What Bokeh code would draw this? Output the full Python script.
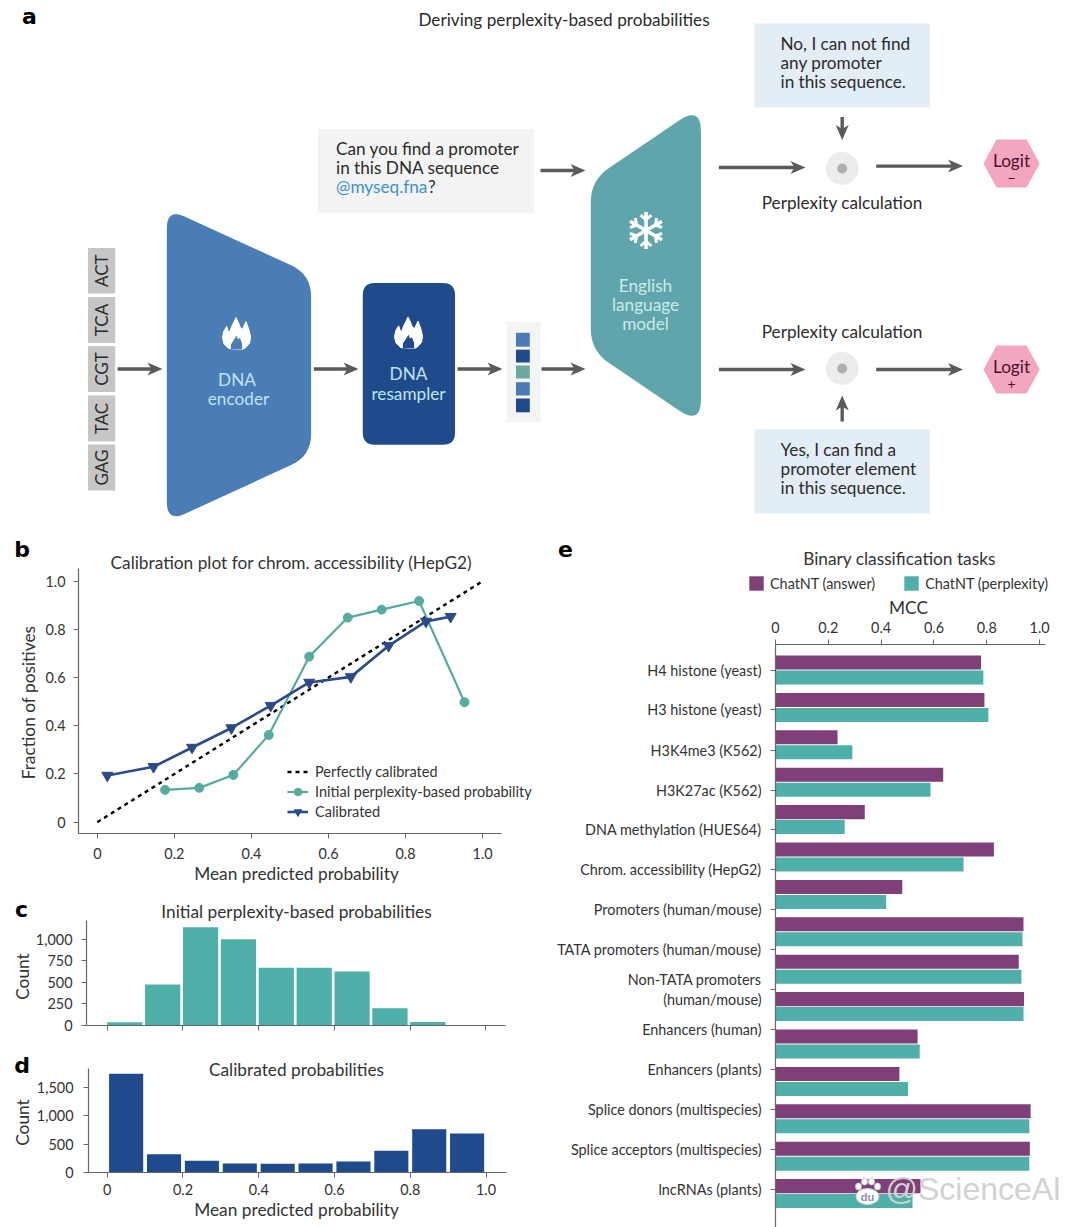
import math
from bokeh.plotting import figure
from bokeh.layouts import column, row
from bokeh.models import Range1d, FixedTicker, Legend, LegendItem, Spacer
from bokeh.core.properties import value
from bokeh.embed import file_html
from bokeh.resources import INLINE

FONT = "Lato"
INK = "#333333"
NAN = float("nan")

# ---- data ----
line_x_perfect = [0, 1.0]
line_y_perfect = [0, 1.0]
initial_x = [0.176, 0.2645, 0.353, 0.445, 0.55, 0.65, 0.738, 0.835, 0.953]
initial_y = [0.134, 0.1425, 0.196, 0.362, 0.687, 0.849, 0.882, 0.918, 0.498]
calib_x = [0.026, 0.146, 0.246, 0.348, 0.45, 0.55, 0.658, 0.756, 0.853, 0.917]
calib_y = [0.194, 0.23, 0.31, 0.391, 0.484, 0.58, 0.603, 0.732, 0.833, 0.853]
bin_left = [0.0, 0.1, 0.2, 0.3, 0.4, 0.5, 0.6, 0.7, 0.8, 0.9]
initial_counts = [39, 475, 1139, 1000, 668, 668, 625, 200, 42, 0]
calib_counts = [1734, 322, 205, 158, 152, 158, 193, 381, 762, 686]
answer_mcc = [.778, .791, .235, .635, .338, .827, .480, .939, .921, .941, .538, .469, .966, .963, .549]
perplexity_mcc = [.787, .806, .291, .587, .262, .712, .419, .935, .931, .939, .546, .502, .961, .961, .519]
task_labels = ["H4 histone (yeast)", "H3 histone (yeast)", "H3K4me3 (K562)", "H3K27ac (K562)",
               "DNA methylation (HUES64)", "Chrom. accessibility (HepG2)", "Promoters (human/mouse)",
               "TATA promoters (human/mouse)", "Non-TATA promoters\n(human/mouse)", "Enhancers (human)",
               "Enhancers (plants)", "Splice donors (multispecies)", "Splice acceptors (multispecies)",
               "lncRNAs (plants)"]
task_tick_pos = [0.0, 1.06, 2.14, 3.21, 4.27, 5.34, 6.41, 7.48, 8.55, 9.62, 10.68, 11.76, 12.82, 13.89]
prob_ticks = [0, 0.2, 0.4, 0.6, 0.8, 1.0]
prob_labels = {0: "0", 0.2: "0.2", 0.4: "0.4", 0.6: "0.6", 0.8: "0.8", 1.0: "1.0"}
blank_labels = {0: "", 0.2: "", 0.4: "", 0.6: "", 0.8: "", 1.0: ""}


# ---- helpers ----
def make_fig(px0, py0, px1, py1, fx0, fy0, fx1, fy1, xr, yr, **kw):
    f = figure(width=px1 - px0, height=py1 - py0, x_range=Range1d(*xr), y_range=Range1d(*yr),
               toolbar_location=None, output_backend="svg", frame_align=False,
               min_border_left=fx0 - px0, min_border_right=px1 - fx1,
               min_border_top=fy0 - py0, min_border_bottom=py1 - fy1, **kw)
    f.outline_line_color = None
    f.grid.visible = False
    f.background_fill_color = None
    f.border_fill_color = None
    return f


def style_axis(ax, ticks, labels, size="14.4px"):
    ax.ticker = FixedTicker(ticks=ticks)
    ax.major_label_overrides = labels
    ax.minor_tick_line_color = None
    ax.major_tick_in = 0
    ax.major_tick_out = 5
    ax.axis_line_color = "#666666"
    ax.major_tick_line_color = "#666666"
    ax.axis_line_width = 1.2
    ax.major_label_text_font = FONT
    ax.major_label_text_font_size = size
    ax.major_label_text_color = INK


def rounded(verts, radii, n=8):
    out = []
    m = len(verts)
    for i in range(m):
        p = verts[i]
        a_ = verts[i - 1]
        b_ = verts[(i + 1) % m]
        r = radii[i]
        da = math.hypot(a_[0] - p[0], a_[1] - p[1])
        db = math.hypot(b_[0] - p[0], b_[1] - p[1])
        s = (p[0] + (a_[0] - p[0]) * r / da, p[1] + (a_[1] - p[1]) * r / da)
        e_ = (p[0] + (b_[0] - p[0]) * r / db, p[1] + (b_[1] - p[1]) * r / db)
        for k in range(n + 1):
            t = k / n
            out.append(((1 - t) ** 2 * s[0] + 2 * t * (1 - t) * p[0] + t ** 2 * e_[0],
                        (1 - t) ** 2 * s[1] + 2 * t * (1 - t) * p[1] + t ** 2 * e_[1]))
    return [q[0] for q in out], [q[1] for q in out]


# ---- page layer: panel a, titles, panel letters, axis titles, legends (page pixel coordinates) ----
a = figure(width=1080, height=1227, x_range=Range1d(0, 1080), y_range=Range1d(1227, 0),
           x_axis_type=None, y_axis_type=None, toolbar_location=None, output_backend="svg",
           min_border=0, styles={"position": "absolute", "top": "0px", "left": "0px", "z-index": "10"})
a.outline_line_color = None
a.grid.visible = False
a.background_fill_color = None
a.border_fill_color = None


def atext(x, y, t, size="17.2px", align="center", color="#2b2b2b", angle=0, font=FONT, style="normal"):
    a.text([x], [y - 1], text=[t], text_font=value(font), text_font_size=value(size), text_align=align,
           text_baseline="middle", text_color=color, angle=angle, text_font_style=style)


def abox(x0, y0, x1, y1, color):
    a.quad(left=[x0], right=[x1], top=[y0], bottom=[y1], fill_color=color, line_color=None)


def arrow(x0, y0, x1, y1):
    L = math.hypot(x1 - x0, y1 - y0)
    ux, uy = (x1 - x0) / L, (y1 - y0) / L
    nx, ny = -uy, ux
    a.line([x0, x1 - 6 * ux], [y0, y1 - 6 * uy], line_color="#5a5a5a", line_width=3.4)
    hx = [x1, x1 - 15 * ux + 6.5 * nx, x1 - 11 * ux, x1 - 15 * ux - 6.5 * nx]
    hy = [y1, y1 - 15 * uy + 6.5 * ny, y1 - 11 * uy, y1 - 15 * uy - 6.5 * ny]
    a.patch(hx, hy, fill_color="#5a5a5a", line_color=None)


FLAME_OUT = [(0.5, 1.0), (0.22, 0.97), (0.05, 0.82), (0, 0.62), (0.05, 0.42), (0.15, 0.28), (0.2, 0.42), (0.25, 0.46),
             (0.33, 0.28), (0.42, 0.12), (0.48, 0), (0.55, 0.12), (0.62, 0.28), (0.71, 0.38), (0.77, 0.26), (0.84, 0.13),
             (0.95, 0.4), (1, 0.6), (0.97, 0.8), (0.82, 0.95), (0.7, 1.0)]
FLAME_IN = [(0.3, 1.0), (0.3, 0.84), (0.42, 0.68), (0.5, 0.56), (0.55, 0.68), (0.62, 0.64), (0.7, 0.82), (0.7, 1.0)]


def flame(x0, y0, x1, y1, bg):
    w, h = x1 - x0, y1 - y0
    a.patch([x0 + p[0] * w for p in FLAME_OUT], [y0 + p[1] * h for p in FLAME_OUT], fill_color="white", line_color="white", line_width=1)
    a.patch([x0 + p[0] * w for p in FLAME_IN], [y0 + p[1] * h for p in FLAME_IN], fill_color=bg, line_color=None)


atext(563.5, 20, "Deriving perplexity-based probabilities")
for lx_, ly_, t_ in [(29, 17, "a"), (21.5, 550, "b"), (21, 910, "c"), (21.5, 1066, "d"), (565, 549, "e")]:
    atext(lx_, ly_, t_, size="22px", color="black", font="DejaVu Sans", style="bold")

# DNA tokens
for t, y0, y1 in [("ACT", 247.5, 293), ("TCA", 296.5, 342.5), ("CGT", 345.5, 391.5), ("TAC", 395, 441), ("GAG", 444, 490)]:
    abox(87.5, y0, 114.7, y1, "#c6c6c6")
    atext(100.5, (y0 + y1) / 2 + 1, t, size="17px", angle=math.pi / 2)

for seg in [(117, 368.5, 162, 368.5), (313.4, 368.5, 358, 368.5), (457, 368.5, 502, 368.5), (540, 170, 585, 170),
            (541, 368.5, 585, 368.5), (718.4, 167, 805, 167), (875.7, 165.6, 962.5, 165.6), (718.4, 369, 805, 369),
            (875.7, 369, 962.5, 369), (841.7, 116.6, 841.7, 139.6), (841.7, 421, 841.7, 395)]:
    arrow(*seg)

# encoder
ex, ey = rounded([(166.3, 207.8), (310.6, 274), (310.6, 455.4), (166.3, 521.6)], [20, 22, 22, 20])
a.patch(ex, ey, fill_color="#4a7cb5", line_color=None)
flame(222, 317, 250, 349, "#4a7cb5")
atext(236.5, 380, "DNA", color="#bfe3f7")
atext(238, 399, "encoder", color="#bfe3f7")

# resampler
rx, ry = rounded([(362.3, 282.6), (454.5, 282.6), (454.5, 444.2), (362.3, 444.2)], [12, 12, 12, 12])
a.patch(rx, ry, fill_color="#1f4a8c", line_color=None)
flame(394, 316.5, 422, 348, "#1f4a8c")
atext(408, 374, "DNA", color="#bfe3f7")
atext(408, 394, "resampler", color="#bfe3f7")

# embedded tokens
abox(506, 321, 540, 422, "#f3f4f6")
for y0, y1, c_ in [(332.3, 346.2, "#4a7cb5"), (349.2, 362, "#1f4a8c"), (365, 378, "#67ab9f"), (381.7, 395, "#4a7cb5"), (398, 411.8, "#1f4a8c")]:
    abox(515.5, y0, 529.3, y1, c_)

# language model
lx, ly = rounded([(590.3, 179.7), (700.5, 105.3), (700.5, 424.7), (590.3, 350.3)], [22, 26, 26, 22])
a.patch(lx, ly, fill_color="#60a5ab", line_color=None)
for k in range(6):
    th = k * math.pi / 3 + math.pi / 2
    cx, cy = 645.5, 230
    tipx, tipy = cx + 18.5 * math.cos(th), cy + 18.5 * math.sin(th)
    a.line([cx, tipx], [cy, tipy], line_color="white", line_width=3.6)
    mx, my = cx + 11 * math.cos(th), cy + 11 * math.sin(th)
    for d_ in (-1, 1):
        a.line([mx, mx + 7 * math.cos(th + d_ * 0.9)], [my, my + 7 * math.sin(th + d_ * 0.9)], line_color="white", line_width=3)
atext(645, 286, "English", color="#c9ecea")
atext(645, 305, "language", color="#c9ecea")
atext(645, 324, "model", color="#c9ecea")

# prompt boxes
abox(317.5, 128.5, 533.4, 212.3, "#f3f3f3")
atext(335.5, 149, "Can you find a promoter", align="left")
atext(335.5, 168, "in this DNA sequence", align="left")
atext(335.5, 187, "@myseq.fna", align="left", color="#3f8fd2")
atext(427.5, 187, "?", align="left")

abox(754, 23, 929.5, 107, "#e3edf5")
for y, t in [(44, "No, I can not find"), (63, "any promoter"), (82, "in this sequence.")]:
    atext(780, y, t, align="left")
abox(754, 428.7, 929.5, 513, "#e3edf5")
for y, t in [(450, "Yes, I can find a"), (469, "promoter element"), (488, "in this sequence.")]:
    atext(780, y, t, align="left")

# perplexity nodes
for cy in (168, 368):
    a.circle([841.7], [cy], radius=16.5, fill_color="#ececec", line_color=None)
    a.circle([841.7], [cy], radius=5, fill_color="#b0b0b0", line_color=None)
atext(841.7, 202.5, "Perplexity calculation")
atext(841.7, 332, "Perplexity calculation")

# logits
for y0, sign in [(139, "\u2212"), (345, "+")]:
    a.patch([983, 996, 1026, 1039.3, 1026, 996], [y0 + 24, y0, y0, y0 + 24, y0 + 48, y0 + 48],
            fill_color="#f4a6c0", line_color=None)
    atext(1011, y0 + 22, "Logit", color="#4a1030")
    atext(1011, y0 + 39, sign, size="14px", color="#4a1030")

# chart titles and axis titles
for x_, y_, t_, ang in [(291, 563, "Calibration plot for chrom. accessibility (HepG2)", 0),
                        (296, 874, "Mean predicted probability", 0),
                        (28, 703, "Fraction of positives", math.pi / 2),
                        (296, 911.5, "Initial perplexity-based probabilities", 0),
                        (22, 977, "Count", math.pi / 2),
                        (296, 1070, "Calibrated probabilities", 0),
                        (296, 1210, "Mean predicted probability", 0),
                        (22, 1123, "Count", math.pi / 2),
                        (899, 558.5, "Binary classification tasks", 0),
                        (908, 607.5, "MCC", 0)]:
    atext(x_, y_, t_, size="17.3px", color=INK, angle=ang)

# legends
k_p = a.line([NAN, NAN], [NAN, NAN], line_color="black", line_width=2.4, line_dash="4 4")
k_i = a.line([NAN, NAN], [NAN, NAN], line_color="#56ab9f", line_width=2.2)
k_is = a.scatter([NAN], [NAN], marker="circle", size=9, fill_color="#56ab9f", line_color="#56ab9f")
k_c = a.line([NAN, NAN], [NAN, NAN], line_color="#2a4a8a", line_width=2.6)
k_cs = a.scatter([NAN], [NAN], marker="inverted_triangle", size=11, fill_color="#2a4a8a", line_color="#2a4a8a")
a.add_layout(Legend(items=[LegendItem(label="Perfectly calibrated", renderers=[k_p]),
                           LegendItem(label="Initial perplexity-based probability", renderers=[k_i, k_is]),
                           LegendItem(label="Calibrated", renderers=[k_c, k_cs])],
                    location=(287, 406), border_line_color=None, background_fill_color=None, padding=0, margin=0,
                    spacing=1, glyph_width=21, glyph_height=19, label_height=19, label_standoff=7,
                    label_text_font=FONT, label_text_font_size="14.5px", label_text_color=INK))
k_a = a.quad(left=[NAN], right=[NAN], top=[NAN], bottom=[NAN], fill_color="#7f3f78", line_color=None)
k_b = a.quad(left=[NAN], right=[NAN], top=[NAN], bottom=[NAN], fill_color="#4fafa9", line_color=None)
a.add_layout(Legend(items=[LegendItem(label="ChatNT (answer)", renderers=[k_a]), LegendItem(label="ChatNT (perplexity)", renderers=[k_b])],
                    location=(747, 635), orientation="horizontal", border_line_color=None, background_fill_color=None,
                    padding=0, margin=0, spacing=27, glyph_width=18, glyph_height=18, label_standoff=5, label_height=18,
                    label_text_font=FONT, label_text_font_size="14.4px", label_text_color=INK))

# watermark
atext(885, 1189, "@ScienceAl", size="32px", align="left", color="#d2d2d2", font="Liberation Sans")
a.ellipse([867], [1196], width=23, height=16, fill_color="white", line_color="#cccccc")
for px, py in [(858, 1186), (864, 1181), (871, 1181), (877, 1186)]:
    a.ellipse([px], [py], width=6, height=7, fill_color="white", line_color="#cccccc")
atext(867, 1197, "du", size="11px", color="#8c8ca8", font="Liberation Sans", style="bold")

# ---- panel b ----
b = make_fig(0, 530, 540, 885, 78, 568, 501, 833, (-0.0488, 1.049), (-0.0469, 1.0527))
style_axis(b.xaxis[0], prob_ticks, prob_labels)
style_axis(b.yaxis[0], prob_ticks, prob_labels)
b.xaxis[0].major_label_standoff = 9
b.yaxis[0].major_label_standoff = 8
b.line(line_x_perfect, line_y_perfect, line_color="black", line_width=2.4, line_dash="4 4")
b.line(initial_x, initial_y, line_color="#56ab9f", line_width=2.2)
b.scatter(initial_x, initial_y, marker="circle", size=9, fill_color="#56ab9f", line_color="#56ab9f")
b.line(calib_x, calib_y, line_color="#2a4a8a", line_width=2.6)
b.scatter(calib_x, calib_y, marker="inverted_triangle", size=11, fill_color="#2a4a8a", line_color="#2a4a8a")

# ---- panel c ----
c = make_fig(0, 885, 540, 1045, 86, 920, 505, 1025, (-0.0546, 1.0515), (0, 1217))
style_axis(c.xaxis[0], prob_ticks, blank_labels)
style_axis(c.yaxis[0], [0, 250, 500, 750, 1000], {0: "0", 250: "250", 500: "500", 750: "750", 1000: "1,000"})
c.yaxis[0].major_label_standoff = 9
c.quad(left=bin_left, right=[v + 0.093 for v in bin_left], top=initial_counts, bottom=0, fill_color="#4fafa9", line_color=None)

# ---- panel d ----
d = make_fig(0, 1045, 540, 1227, 88, 1068, 506, 1172, (-0.0494, 1.054), (0, 1828))
style_axis(d.xaxis[0], prob_ticks, prob_labels)
style_axis(d.yaxis[0], [0, 500, 1000, 1500], {0: "0", 500: "500", 1000: "1,000", 1500: "1,500"})
d.xaxis[0].major_label_standoff = 6
d.yaxis[0].major_label_standoff = 10
d.quad(left=[v + 0.005 for v in bin_left], right=[v + 0.095 for v in bin_left], top=calib_counts, bottom=0,
       fill_color="#1f4a8c", line_color=None)

# ---- panel e ----
e = make_fig(540, 530, 1080, 1227, 775, 644, 1045, 1227, (0, 1.0223), (14.906, -0.682), x_axis_location="above")
style_axis(e.xaxis[0], prob_ticks, prob_labels)
style_axis(e.yaxis[0], task_tick_pos, dict(zip(task_tick_pos, task_labels)), size="14.4px")
e.xaxis[0].major_label_standoff = 7
e.yaxis[0].major_label_standoff = 9
groups = list(range(len(answer_mcc)))
e.hbar(y=[g - 0.2 for g in groups], right=answer_mcc, left=0, height=0.375, fill_color="#7f3f78", line_color=None)
e.hbar(y=[g + 0.2 for g in groups], right=perplexity_mcc, left=0, height=0.375, fill_color="#4fafa9", line_color=None)

lower = row(column(b, c, d, spacing=0), e, spacing=0)
charts = column(Spacer(width=1080, height=530), lower, spacing=0)
page = column(a, charts, spacing=0)
open("out.html", "w").write(file_html(page, INLINE))
